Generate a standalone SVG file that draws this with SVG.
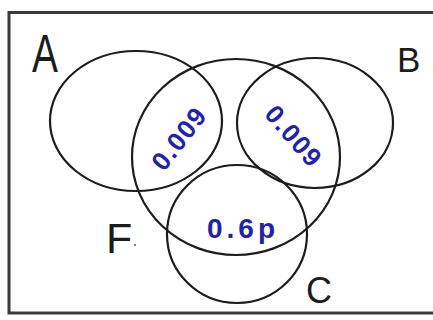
<svg xmlns="http://www.w3.org/2000/svg" width="433" height="320" viewBox="0 0 433 320">
<style>
.set{fill:none;stroke:#1c1c1c;stroke-width:2.2}
.lbl{font-family:"Liberation Sans",Arial,sans-serif;fill:#1c1c1c;font-weight:normal}
.val{font-family:"Liberation Sans",Arial,sans-serif;fill:#2323a8;font-weight:bold}
</style>
<rect x="0" y="0" width="433" height="320" fill="#ffffff"/>
<rect x="9" y="12.5" width="440" height="300.5" fill="none" stroke="#3a3a3a" stroke-width="3"/>
<g id="A"><ellipse class="set" cx="136" cy="121" rx="86" ry="70"/><text class="lbl" font-size="54" transform="translate(32,72) scale(0.72,1)">A</text></g>
<g id="B"><ellipse class="set" cx="315" cy="123" rx="78" ry="65"/><text class="lbl" x="397" y="72" font-size="35">B</text></g>
<g id="F"><ellipse class="set" cx="236" cy="157" rx="104" ry="98"/><text class="lbl" x="106" y="253" font-size="43">F</text><circle cx="135" cy="245" r="1" fill="#555"/></g>
<g id="C"><ellipse class="set" cx="237" cy="234" rx="70" ry="69"/><text class="lbl" x="306" y="303" font-size="36">C</text></g>
<g id="values">
<text class="val" font-size="26" letter-spacing="1.5" text-anchor="middle" transform="translate(180,139) rotate(-52)" dy="8">0.009</text>
<text class="val" font-size="26" letter-spacing="1.5" text-anchor="middle" transform="translate(293,137) rotate(49)" dy="8">0.009</text>
<text class="val" font-size="28" letter-spacing="4" text-anchor="middle" x="243" y="238">0.6p</text>
</g>
</svg>
